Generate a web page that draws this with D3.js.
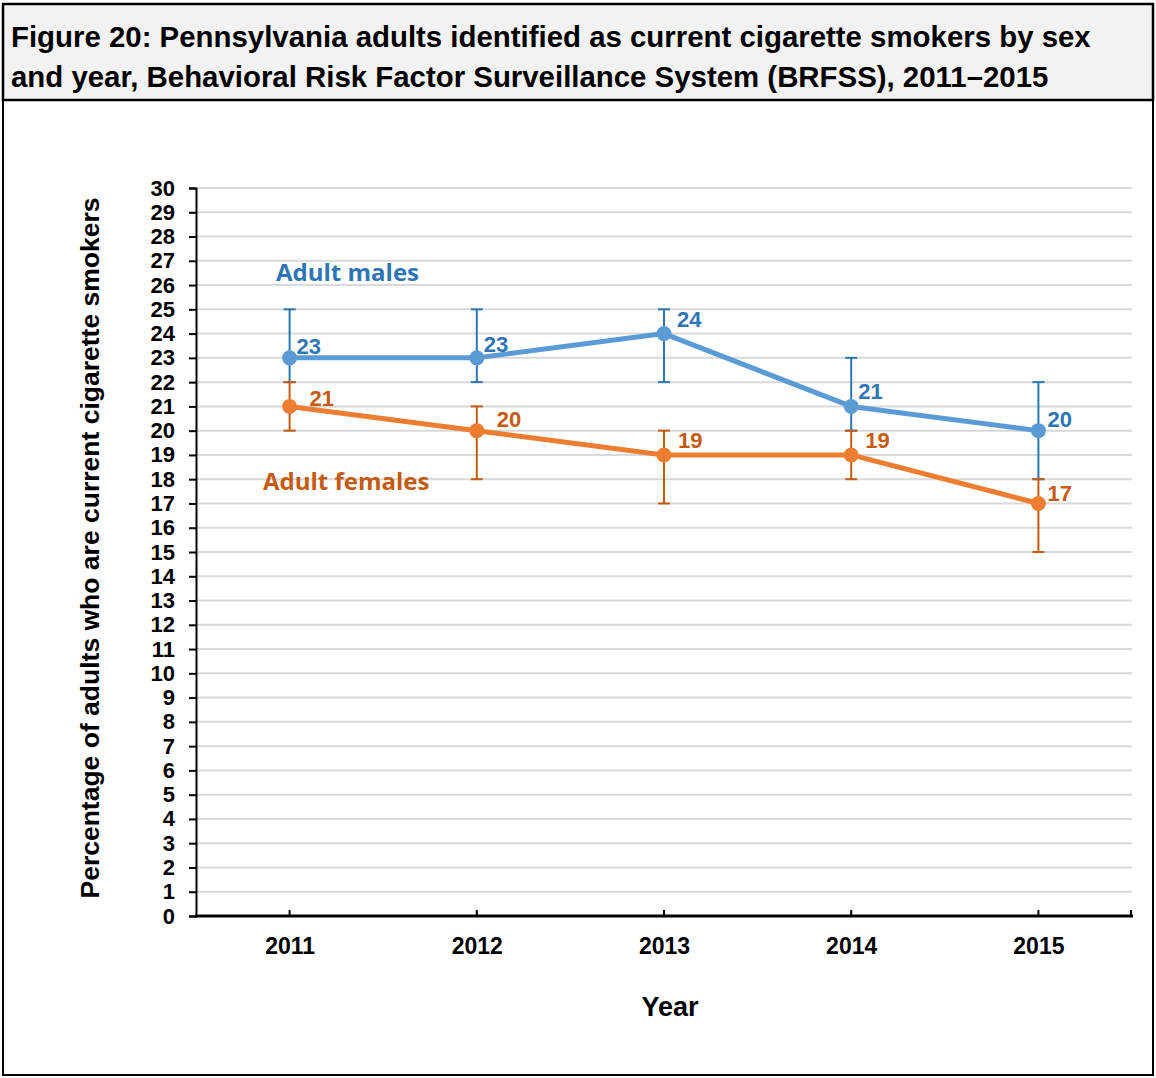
<!DOCTYPE html>
<html><head><meta charset="utf-8">
<script src="https://cdn.jsdelivr.net/npm/d3@7"></script>
<style>body{margin:0;background:#fff}svg{display:block}</style>
</head><body>
<script>
const years = ["2011","2012","2013","2014","2015"];
const maleValues = [23,23,24,21,20];
const maleLow = [22,22,22,20,18];
const maleHigh = [25,25,25,23,22];
const femaleValues = [21,20,19,19,17];
const femaleLow = [20,18,17,18,15];
const femaleHigh = [22,21,20,20,18];
const yTicks = d3.range(0,31,1);
const titleLines = ["Figure 20: Pennsylvania adults identified as current cigarette smokers by sex",
                    "and year, Behavioral Risk Factor Surveillance System (BRFSS), 2011\u20132015"];

const W=1156,H=1078;
const FONT="Liberation Sans, Arial, sans-serif";
const svg=d3.select("body").append("svg").attr("width",W).attr("height",H);
svg.append("rect").attr("x",0).attr("y",0).attr("width",W).attr("height",H).attr("fill","#fff");
// title box
svg.append("rect").attr("x",3).attr("y",4).attr("width",1150).attr("height",96).attr("fill","#f2f2f2").attr("stroke","#000").attr("stroke-width",2.5);
svg.append("rect").attr("x",3).attr("y",4).attr("width",1150).attr("height",1071).attr("fill","none").attr("stroke","#000").attr("stroke-width",2);
svg.selectAll(".title").data(titleLines).join("text")
  .attr("x",11).attr("y",(d,i)=>47+i*40)
  .attr("font-family",FONT).attr("font-weight","bold").attr("font-size",29.4)
  .attr("fill","#000").text(d=>d);

const x=d3.scalePoint().domain(years).range([196,1132]).padding(0.5);
const y=d3.scaleLinear().domain([0,30]).range([916,188]);

// gridlines
svg.append("g").selectAll("line").data(yTicks.filter(d=>d>0)).join("line")
  .attr("x1",197).attr("x2",1132).attr("y1",d=>y(d)).attr("y2",d=>y(d))
  .attr("stroke","#d9d9d9").attr("stroke-width",2);

// y axis
const yAx=svg.append("g").attr("transform","translate(196,0)")
  .call(d3.axisLeft(y).tickValues(yTicks).tickSize(7).tickPadding(14).tickFormat(d3.format("d")));
yAx.select(".domain").attr("stroke","#000").attr("stroke-width",2);
yAx.selectAll(".tick line").attr("stroke","#000").attr("stroke-width",2);
yAx.selectAll("text").attr("font-family",FONT).attr("font-weight","bold").attr("font-size",22).attr("fill","#000");

// x axis
const xAx=svg.append("g").attr("transform","translate(0,916)")
  .call(d3.axisBottom(x).tickSize(0).tickPadding(22));
xAx.select(".domain").remove();
xAx.selectAll("text").attr("font-family",FONT).attr("font-weight","bold").attr("font-size",23).attr("fill","#000");
svg.append("line").attr("x1",195).attr("x2",1133).attr("y1",916).attr("y2",916).attr("stroke","#000").attr("stroke-width",3);
svg.append("g").selectAll("line").data(years).join("line")
  .attr("x1",d=>x(d)).attr("x2",d=>x(d)).attr("y1",910).attr("y2",916).attr("stroke","#000").attr("stroke-width",2);
svg.append("line").attr("x1",1131).attr("x2",1131).attr("y1",910).attr("y2",916).attr("stroke","#000").attr("stroke-width",2);

// axis titles
svg.append("text").attr("transform","translate(99,548) rotate(-90)").attr("text-anchor","middle")
  .attr("font-family",FONT).attr("font-weight","bold").attr("font-size",26.5).attr("fill","#000")
  .text("Percentage of adults who are current cigarette smokers");
svg.append("text").attr("x",670).attr("y",1016).attr("text-anchor","middle")
  .attr("font-family",FONT).attr("font-weight","bold").attr("font-size",27).attr("fill","#000")
  .text("Year");

function series(vals,lo,hi,barCol){
  const g=svg.append("g");
  const data=years.map((yr,i)=>({yr,v:vals[i],lo:lo[i],hi:hi[i]}));
  const eb=g.append("g");
  eb.selectAll("line.v").data(data).join("line").attr("class","v")
    .attr("x1",d=>x(d.yr)).attr("x2",d=>x(d.yr)).attr("y1",d=>y(d.lo)).attr("y2",d=>y(d.hi))
    .attr("stroke",barCol).attr("stroke-width",2);
  ["lo","hi"].forEach(k=>{
    eb.selectAll("line."+k).data(data).join("line").attr("class",k)
      .attr("x1",d=>x(d.yr)-6).attr("x2",d=>x(d.yr)+6).attr("y1",d=>y(d[k])).attr("y2",d=>y(d[k]))
      .attr("stroke",barCol).attr("stroke-width",2);
  });
  return {g,data};
}
const m=series(maleValues,maleLow,maleHigh,"#2e75b6");
const f=series(femaleValues,femaleLow,femaleHigh,"#c55a11");
const line=d3.line().x(d=>x(d.yr)).y(d=>y(d.v));
function drawLine(s,col,labCol,dxs,dys){
  s.g.append("path").datum(s.data).attr("d",line).attr("fill","none").attr("stroke",col).attr("stroke-width",5).attr("stroke-linejoin","round");
  s.g.selectAll("circle").data(s.data).join("circle").attr("cx",d=>x(d.yr)).attr("cy",d=>y(d.v)).attr("r",7.5).attr("fill",col);
  s.g.selectAll("text").data(s.data).join("text")
    .attr("x",(d,i)=>x(d.yr)+dxs[i]).attr("y",(d,i)=>y(d.v)+dys[i])
    .attr("font-family",FONT).attr("font-weight","bold").attr("font-size",22).attr("fill",labCol)
    .text(d=>d.v);
}
drawLine(f,"#ed7d31","#c55a11",[20,20,14,14,9],[0,-4,-7,-7,-2]);
drawLine(m,"#5b9bd5","#2e75b6",[7,7,13,7,9],[-4,-6,-7,-7,-4]);

svg.append("text").attr("x",276).attr("y",281).attr("font-family","Open Sans, sans-serif").attr("font-weight","bold").attr("font-size",24).attr("fill","#2e75b6").text("Adult males");
svg.append("text").attr("x",263).attr("y",490).attr("font-family","Open Sans, sans-serif").attr("font-weight","bold").attr("font-size",24).attr("fill","#c55a11").text("Adult females");
</script>
</body></html>
